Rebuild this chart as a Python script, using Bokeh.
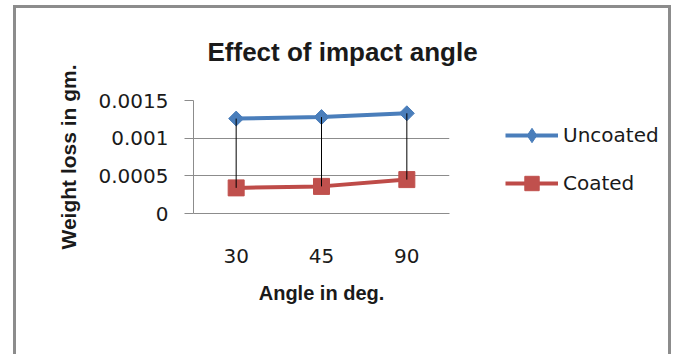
import math

from bokeh.embed import file_html
from bokeh.models import (FactorRange, FixedTicker, Legend, LegendItem,
                          Range1d)
from bokeh.plotting import figure
from bokeh.resources import INLINE

# Weight loss (gm) against impact angle (deg)
angles = ["30", "45", "90"]
uncoated = [0.00126, 0.00128, 0.00133]
coated = [0.00034, 0.00036, 0.00045]
y_ticks = [0, 0.0005, 0.001, 0.0015]
y_tick_labels = ["0", "0.0005", "0.001", "0.0015"]

BLUE = "#4a7ebb"
RED = "#be4b48"
GRID = "#8c8c8c"
TEXT = "#1a1a1a"

p = figure(
    width=677, height=354, frame_width=256, frame_height=113,
    x_range=FactorRange(factors=angles),
    y_range=Range1d(0, 0.0015),
    output_backend="svg", toolbar_location=None,
    min_border_left=193, min_border_right=0,
    min_border_top=100, min_border_bottom=141,
)
p.outline_line_color = None
p.background_fill_color = "white"
p.border_fill_color = None

# grey frame around the whole chart area, open at the bottom
edge = f"linear-gradient({GRID},{GRID})"
p.styles = {
    "background": (
        f"{edge} 13px 5px / 3px 400px no-repeat, "
        f"{edge} 668px 5px / 3px 400px no-repeat, "
        f"{edge} 13px 5px / 658px 3px no-repeat, #ffffff"
    )
}

# title
p.title.text = "Effect of impact angle"
p.title.align = "left"
p.title.vertical_align = "top"
p.title.offset = 14
p.title.text_font = "Liberation Sans"
p.title.text_font_style = "bold"
p.title.text_font_size = "26px"
p.title.text_color = TEXT
p.title.standoff = 64

# y axis
p.yaxis.ticker = FixedTicker(ticks=y_ticks)
p.yaxis.major_label_overrides = dict(zip(y_ticks, y_tick_labels))
p.yaxis.axis_label = "Weight loss in gm."
p.yaxis.axis_label_text_font = "Liberation Sans"
p.yaxis.axis_label_text_font_style = "bold"
p.yaxis.axis_label_text_font_size = "21px"
p.yaxis.axis_label_text_color = TEXT
p.yaxis.axis_label_standoff = 16
p.yaxis.major_label_text_font = "DejaVu Sans"
p.yaxis.major_label_text_font_size = "20px"
p.yaxis.major_label_text_color = TEXT
p.yaxis.major_label_standoff = 16
p.yaxis.major_tick_out = 9
p.yaxis.major_tick_in = 0
p.yaxis.minor_tick_out = 0
p.yaxis.minor_tick_in = 0
p.yaxis.axis_line_color = GRID
p.yaxis.major_tick_line_color = GRID

# x axis
p.xaxis.axis_label = "Angle in deg."
p.xaxis.axis_label_text_font = "Liberation Sans"
p.xaxis.axis_label_text_font_style = "bold"
p.xaxis.axis_label_text_font_size = "20px"
p.xaxis.axis_label_text_color = TEXT
p.xaxis.axis_label_standoff = 16
p.xaxis.major_label_text_font = "DejaVu Sans"
p.xaxis.major_label_text_font_size = "20px"
p.xaxis.major_label_text_color = TEXT
p.xaxis.major_label_standoff = 35
p.xaxis.major_tick_out = 0
p.xaxis.major_tick_in = 0
p.xaxis.axis_line_color = GRID

# grid
p.xgrid.grid_line_color = None
p.ygrid.ticker = FixedTicker(ticks=y_ticks)
p.ygrid.grid_line_color = GRID
p.ygrid.grid_line_width = 1

# series
u_line = p.line(angles, uncoated, line_color=BLUE, line_width=4)
# diamond key for the legend, sitting under the rotated squares
u_key = p.scatter(angles, uncoated, marker="diamond", size=9,
                  fill_color=BLUE, line_color=BLUE)
u_mark = p.scatter(angles, uncoated, marker="square", angle=math.pi / 4,
                   size=10.6, fill_color=BLUE, line_color=BLUE)
c_line = p.line(angles, coated, line_color=RED, line_width=4)
c_mark = p.scatter(angles, coated, marker="square", size=16,
                   fill_color="#c0504d", line_color="#c0504d")

# high-low lines between the two series
p.segment(x0=angles, y0=uncoated, x1=angles, y1=coated,
          line_color="black", line_width=1)

legend = Legend(
    items=[LegendItem(label="Uncoated", renderers=[u_line, u_key]),
           LegendItem(label="Coated", renderers=[c_line, c_mark])],
    location=(56, 12), orientation="vertical",
    glyph_width=53, glyph_height=36, label_height=36,
    label_standoff=5, spacing=12,
    label_text_font="DejaVu Sans", label_text_font_size="20px",
    label_text_color=TEXT, padding=0, margin=0,
    border_line_color=None, background_fill_alpha=0,
)
p.add_layout(legend, "right")

open("out.html", "w").write(file_html(p, INLINE))
